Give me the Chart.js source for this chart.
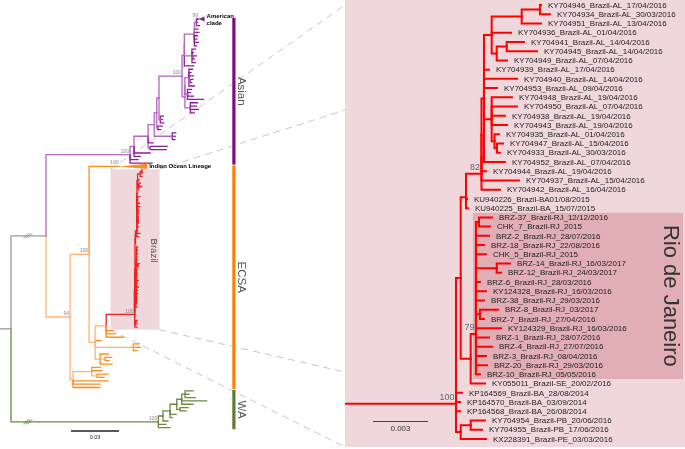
<!DOCTYPE html>
<html><head><meta charset="utf-8">
<script src="https://cdn.jsdelivr.net/npm/chart.js@4/dist/chart.umd.min.js"></script>
<style>html,body{margin:0;padding:0;background:#fff}canvas{display:block}</style>
</head><body>
<canvas id="c" width="685" height="449"></canvas>
<script>
// ---------------- DATA ----------------
// Tip labels of the zoomed Brazil clade (right panel), top to bottom
const rioLabels = [
 "KY704946_Brazil-AL_17/04/2016","KY704934_Brazil-AL_30/03/2016","KY704951_Brazil-AL_13/04/2016",
 "KY704936_Brazil-AL_01/04/2016","KY704941_Brazil-AL_14/04/2016","KY704945_Brazil-AL_14/04/2016",
 "KY704949_Brazil-AL_07/04/2016","KY704939_Brazil-AL_17/04/2016","KY704940_Brazil-AL_14/04/2016",
 "KY704953_Brazil-AL_09/04/2016","KY704948_Brazil-AL_19/04/2016","KY704950_Brazil-AL_07/04/2016",
 "KY704938_Brazil-AL_19/04/2016","KY704943_Brazil-AL_19/04/2016","KY704935_Brazil-AL_01/04/2016",
 "KY704947_Brazil-AL_15/04/2016","KY704933_Brazil-AL_30/03/2016","KY704952_Brazil-AL_07/04/2016",
 "KY704944_Brazil-AL_19/04/2016","KY704937_Brazil-AL_15/04/2016","KY704942_Brazil-AL_16/04/2016",
 "KU940226_Brazil-BA01/08/2015","KU940225_Brazil-BA_15/07/2015","BRZ-37_Brazil-RJ_12/12/2016",
 "CHK_7_Brazil-RJ_2015","BRZ-2_Brazil-RJ_28/07/2016","BRZ-18_Brazil-RJ_22/08/2016",
 "CHK_5_Brazil-RJ_2015","BRZ-14_Brazil-RJ_16/03/2017","BRZ-12_Brazil-RJ_24/03/2017",
 "BRZ-6_Brazil-RJ_28/03/2016","KY124328_Brazil-RJ_16/03/2016","BRZ-38_Brazil-RJ_29/03/2016",
 "BRZ-8_Brazil-RJ_03/2017","BRZ-7_Brazil-RJ_27/04/2016","KY124329_Brazil-RJ_16/03/2016",
 "BRZ-1_Brazil-RJ_28/07/2016","BRZ-4_Brazil-RJ_27/07/2016","BRZ-3_Brazil-RJ_08/04/2016",
 "BRZ-20_Brazil-RJ_29/03/2016","BRZ-10_Brazil-RJ_05/05/2016","KY055011_Brazil-SE_20/02/2016",
 "KP164569_Brazil-BA_28/08/2014","KP164570_Brazil-BA_03/09/2014","KP164568_Brazil-BA_26/08/2014",
 "KY704954_Brazil-PB_20/06/2016","KY704955_Brazil-PB_17/06/2016","KX228391_Brazil-PE_03/03/2016"
];
// Brazil clade topology, branch lengths (subst./site), tips = index into rioLabels (1-based), supports
const rioNewick = "(((((((((((((1:0.000055,2:0.000545):0.000998,3:0.001053):0.001636,4:0.001053,((5:0.000944,6:0.001653):0.000545,7:0.000562):0.000273):0.00042,8:0.000273,9:0.0018,10:0.000709,(11:0.001107,12:0.00138,13:0.000725,14:0.000835,(15:0.000245,(16:0.000327,17:0.000164):0.000136):0.000153):0.00042,18:0.001145):0.000136,19:0.000245):0,20:0.002045):0,21:0.001009)82:0.000845,22:0.000055):0,23:0.000109):0.000289,((((24:0.000709,25:0.0006):0.000164,26:0.000709,27:0.000436,28:0.000545,(29:0.000725,30:0.000235):0.001129,31:0.000218,32:0.000545,33:0.000436,(34:0.000982,35:0.000218):0.000218,36:0.001364,37:0.000709,38:0.000873,39:0.000545,40:0.0006):0,41:0.000218)79:0.000289,42:0.00078):0.000545):0.000256,43:0.000327,44:0.000218):0,45:0.000218):0,((46:0.00078,47:0.000616):0.000545,48:0.00138):0.000256)100";
// Global tree (left panel), per genotype
const asianNewick = "(((((((((((AM:0.0013,:0.0006,:0.0019):0.0013,:0.0022,:0.0028,:0.0019,:0.0016,:0.0025,:0.0013):0.0063,(:0.0021,:0.0008,(:0.0022,:0.0009):0.0005,:0.0021):0.0048):0,:0.0059):0.0014,(((:0.0022,:0.0013,:0.0028,(:0.0016,:0.0009):0.0009,:0.0034):0.0025,(:0.0025,:0.0019,:0.0038,:0.01):0.0016):0,(:0.0044,:0.0038,:0.005,:0.0025):0.0034):0.0018)100:0.0144,(:0.0019,:0.0013,:0.0022):0.0008):0.0014,(:0.0028,:0.0019):0.0006):0.0016,(:0.0022,:0.0019,:0.0016):0.0113):0.0038,:0.0031,(:0.0106,:0.01):0.0013):0.0088,:0.01,:0.0038):0.0025,:0.005,:0.0138)100:0.0525";
const ecsaNewick = "((IOL:0.0188,((BRAZIL:0.0177,:0.0044,:0.0056,:0.0106):0.0069,:0.0038,(:0.0038,:0.0044,:0.0025):0.0238,(:0.005,(:0.0042,:0.0025):0.0031,:0.0075):0.0031):0.0038)100:0.0119,((:0.0052,:0.0064,(:0.0069,:0.0044):0.0033):0.0117,:0.0219,:0.0169,:0.0166):0.0019)94:0.015";
const waNewick = "((((((:0.005,:0.0025,:0.0063):0.0021,:0.0156,:0.0071):0.0031,(:0.005,:0.0038):0.0021):0.0042,:0.0038,:0.0013):0.0044,:0.0031):0.0029,:0.0048,:0.0073)100:0.0921";
const backboneLengths = [0.0069, 0.0219];   // root stem, Asian+ECSA stem
const rioStemLength = 0.00606;              // truncated stem into zoomed clade
const breakDepth = 0.0105;                  // position of the "//" break marks
const collapsedKeys = ["AM", "IOL"];
const collapsedTitles = [["American", "clade"], ["Indian Ocean Lineage"]];
const collapsedDepths = [0.0038, 0.0175];
const collapsedSupport = [99, 100];
const genotypeNames = ["Asian", "ECSA", "WA"];
const scaleBarValues = [0.03, 0.003];

// ---------------- TREE HELPERS ----------------
function parseNewick(s) {
  let i = 0;
  function node() {
    const n = { children: [], name: "", label: "", len: 0 };
    if (s[i] === "(") {
      i++;
      n.children.push(node());
      while (s[i] === ",") { i++; n.children.push(node()); }
      i++;
    }
    let t = "";
    while (i < s.length && ",():;".indexOf(s[i]) < 0) t += s[i++];
    if (n.children.length) n.label = t; else n.name = t;
    if (s[i] === ":") {
      i++; let num = "";
      while (i < s.length && ",();".indexOf(s[i]) < 0) num += s[i++];
      n.len = parseFloat(num);
    }
    return n;
  }
  return node();
}
function layout(n, parentDepth, counter) {
  n.depth = parentDepth + n.len;
  if (!n.children.length) { n.y = counter.i++; return; }
  n.children.forEach(c => layout(c, n.depth, counter));
  n.y = (n.children[0].y + n.children[n.children.length - 1].y) / 2;
}
function walk(n, f) { f(n); n.children.forEach(c => walk(c, f)); }
function paint(n, internal, tip) { walk(n, m => { m.color = m.children.length ? internal : tip; }); }
function leafRange(n) { let lo = 1e9, hi = -1e9; walk(n, m => { if (!m.children.length) { lo = Math.min(lo, m.y); hi = Math.max(hi, m.y); } }); return [lo, hi]; }

// left tree
const asian = parseNewick(asianNewick);
const ecsa = parseNewick(ecsaNewick);
const wa = parseNewick(waNewick);
const brazil = parseNewick(rioNewick);
(function replace(n) {
  n.children = n.children.map(c => { if (c.name === "BRAZIL") { brazil.len = c.len; return brazil; } replace(c); return c; });
})(ecsa);
const ae = { children: [asian, ecsa], name: "", label: "", len: backboneLengths[1] };
const leftRoot = { children: [ae, wa], name: "", label: "", len: 0 };
layout(leftRoot, 0, { i: 0 });
leftRoot.color = "#9a9a9a"; ae.color = "#9a9a9a";
paint(asian, "#b465bf", "#8b1f92");
paint(ecsa, "#ffb273", "#ff8c1c");
paint(brazil, "#ee2020", "#ee2020");
paint(wa, "#6b8a3c", "#6b8a3c");
walk(brazil, m => { m.inner = m !== brazil; });

// right tree
const rio = parseNewick(rioNewick);
rio.len = 0;
layout(rio, 0, { i: 0 });
paint(rio, "#ff0000", "#ff0000");

// ---------------- DATASETS ----------------
const datasets = [];
function branches(n, xa, ya, w) {
  n.children.forEach(c => {
    datasets.push({
      data: [{ x: n.depth, y: n.y }, { x: n.depth, y: c.y }, { x: c.depth, y: c.y }],
      borderColor: c.color, borderWidth: w, showLine: true, pointRadius: 0,
      borderCapStyle: "square", borderJoinStyle: "miter", tension: 0,
      xAxisID: xa, yAxisID: ya
    });
    branches(c, xa, ya, w);
  });
}
datasets.push({ data: [{ x: -backboneLengths[0], y: leftRoot.y }, { x: 0, y: leftRoot.y }], borderColor: "#9a9a9a",
  borderWidth: 1.3, showLine: true, pointRadius: 0, xAxisID: "xL", yAxisID: "yL" });
branches(leftRoot, "xL", "yL", 1.3);
datasets.push({ data: [{ x: -rioStemLength, y: rio.y }, { x: 0, y: rio.y }], borderColor: "#ff0000",
  borderWidth: 2, showLine: true, pointRadius: 0, xAxisID: "xR", yAxisID: "yR" });
branches(rio, "xR", "yR", 2);

// ---------------- GEOMETRY ----------------
const W = 685, H = 449;
const L_PX = 48 / 0.03, L_X0 = 11, L_Y0 = 19, L_STEP = 3.35;
const R_PX = 55 / 0.003, R_X0 = 456, R_Y0 = 5, R_STEP = 9.234;
const FONT = "'Liberation Sans', Arial, Helvetica, sans-serif";

function vtext(c, txt, x, y, font, color) {
  c.save(); c.translate(x, y); c.rotate(Math.PI / 2);
  c.font = font; c.fillStyle = color; c.textAlign = "center"; c.textBaseline = "middle";
  c.fillText(txt, 0, 0); c.restore();
}

const decor = {
  id: "decor",
  beforeDatasetsDraw(chart) {
    const c = chart.ctx, s = chart.scales;
    c.save();
    c.fillStyle = "#f0d7db"; c.fillRect(345, 0, W - 345, 447);
    let rj = null; walk(rio, m => { if (m.label === "79") rj = m; });
    const rr = leafRange(rj);
    const rt = s.yR.getPixelForValue(rr[0] - 0.5), rb = s.yR.getPixelForValue(rr[1] + 0.5);
    const rl = s.xR.getPixelForValue(rj.depth) - 3;
    c.fillStyle = "#e0aeb4"; c.fillRect(rl, rt, 683 - rl, rb - rt);
    const br = leafRange(brazil);
    const bx = s.xL.getPixelForValue(brazil.depth) - 24;
    const by0 = s.yL.getPixelForValue(br[0]) - 0.5, by1 = s.yL.getPixelForValue(br[1]) + 2.5;
    c.fillStyle = "#f0d7db"; c.fillRect(bx, by0, 49, by1 - by0);
    c.strokeStyle = "#c6c6c6"; c.lineWidth = 1; c.setLineDash([7, 5]);
    [[bx, by0, 345, 5], [bx + 49, by0, 345, 110], [bx, by1, 345, 447], [bx + 49, by1, 345, 372]].forEach(l => {
      c.beginPath(); c.moveTo(l[0], l[1]); c.lineTo(l[2], l[3]); c.stroke();
    });
    c.restore();
  },
  afterDatasetsDraw(chart) {
    const c = chart.ctx, s = chart.scales;
    const lx = v => s.xL.getPixelForValue(v), ly = v => s.yL.getPixelForValue(v);
    const rx = v => s.xR.getPixelForValue(v), ry = v => s.yR.getPixelForValue(v);
    c.save();
    // collapsed clades
    walk(leftRoot, m => {
      const k = collapsedKeys.indexOf(m.name);
      if (k < 0) return;
      const x0 = lx(m.depth), x1 = lx(m.depth + collapsedDepths[k]), y = ly(m.y);
      c.fillStyle = m.color; c.beginPath();
      c.moveTo(x0, y); c.lineTo(x1, y - 2.6); c.lineTo(x1, y + 2.6); c.closePath(); c.fill();
      c.font = "bold 6px " + FONT; c.fillStyle = "#000"; c.textAlign = "left"; c.textBaseline = "middle";
      const t = collapsedTitles[k];
      if (t.length === 1) c.fillText(t[0], x1 + 2, y);
      else { c.fillText(t[0], x1 + 2, y - 2.5); c.fillText(t[1], x1 + 2, y + 4.5); }
      c.font = "5px " + FONT; c.fillStyle = "#888"; c.textAlign = "right"; c.textBaseline = "bottom";
      c.fillText(String(collapsedSupport[k]), x0 - 0.5, y - 0.8);
    });
    // supports, left
    c.font = "5px " + FONT; c.fillStyle = "#888"; c.textAlign = "right"; c.textBaseline = "bottom";
    walk(leftRoot, m => { if (m.label && !m.inner) c.fillText(m.label, lx(m.depth) - 1, ly(m.y) - 0.8); });
    // supports, right
    c.font = "9px " + FONT; c.fillStyle = "#666";
    walk(rio, m => { if (m.label) c.fillText(m.label, rx(m.depth) - 1.5, ry(m.y) - 1.5); });
    // tip labels, right
    c.font = "8px " + FONT; c.fillStyle = "#222"; c.textAlign = "left"; c.textBaseline = "middle";
    walk(rio, m => { if (!m.children.length) c.fillText(rioLabels[parseInt(m.name, 10) - 1], rx(m.depth) + 7, ry(m.y) + 0.5); });
    // genotype bars
    const gcol = ["#800a80", "#ff8000", "#5e7a35"];
    const groups = [asian, ecsa, wa];
    groups.forEach((g, k) => {
      const r = leafRange(g);
      const y0 = ly(r[0]) - 1, y1 = ly(r[1]) + 1.5;
      c.fillStyle = gcol[k]; c.fillRect(232.3, y0, 3.2, y1 - y0);
      vtext(c, genotypeNames[k], 241.5, (y0 + y1) / 2, "11.5px " + FONT, "#555");
    });
    // Brazil label in left box
    const br = leafRange(brazil);
    vtext(c, "Brazil", lx(brazil.depth) + 19.5, (ly(br[0]) + ly(br[1])) / 2 + 2, "9.5px " + FONT, "#555");
    // Rio de Janeiro label
    let rj = null; walk(rio, m => { if (m.label === "79") rj = m; });
    const rr = leafRange(rj);
    vtext(c, "Rio de Janeiro", 670, (ry(rr[0]) + ry(rr[1])) / 2, "22px " + FONT, "#333");
    // scale bars
    c.strokeStyle = "#222"; c.lineWidth = 1.3; c.setLineDash([]);
    const lb0 = 71, lb1 = lb0 + (lx(scaleBarValues[0]) - lx(0));
    c.beginPath(); c.moveTo(lb0, 431); c.lineTo(lb1, 431); c.stroke();
    c.font = "5.5px " + FONT; c.fillStyle = "#222"; c.textAlign = "center"; c.textBaseline = "middle";
    c.fillText(String(scaleBarValues[0]), (lb0 + lb1) / 2, 437);
    c.strokeStyle = "#444"; c.lineWidth = 1;
    const rb0 = 373, rb1 = rb0 + (rx(scaleBarValues[1]) - rx(0));
    c.beginPath(); c.moveTo(rb0, 421.5); c.lineTo(rb1, 421.5); c.stroke();
    c.font = "8px " + FONT; c.fillStyle = "#333";
    c.fillText(String(scaleBarValues[1]), (rb0 + rb1) / 2, 429);
    // break marks
    [[ae, "#9a9a9a"], [wa, "#6b8a3c"]].forEach(([n, col]) => {
      const x = lx(breakDepth), y = ly(n.y);
      c.strokeStyle = col; c.lineWidth = 0.9;
      [-2, 0, 2].forEach(d => { c.beginPath(); c.moveTo(x + d - 2.5, y + 2.5); c.lineTo(x + d + 2.5, y - 2.5); c.stroke(); });
    });
    c.restore();
  }
};

new Chart(document.getElementById("c").getContext("2d"), {
  type: "scatter",
  data: { datasets },
  options: {
    responsive: false, animation: false, devicePixelRatio: 1, events: [],
    layout: { padding: 0 },
    plugins: { legend: { display: false }, tooltip: { enabled: false } },
    scales: {
      xL: { type: "linear", axis: "x", display: false, min: -L_X0 / L_PX, max: (W - L_X0) / L_PX },
      yL: { type: "linear", axis: "y", display: false, reverse: true, min: -L_Y0 / L_STEP, max: (H - L_Y0) / L_STEP },
      xR: { type: "linear", axis: "x", display: false, min: -R_X0 / R_PX, max: (W - R_X0) / R_PX },
      yR: { type: "linear", axis: "y", display: false, reverse: true, min: -R_Y0 / R_STEP, max: (H - R_Y0) / R_STEP }
    }
  },
  plugins: [decor]
});
</script>
</body></html>
